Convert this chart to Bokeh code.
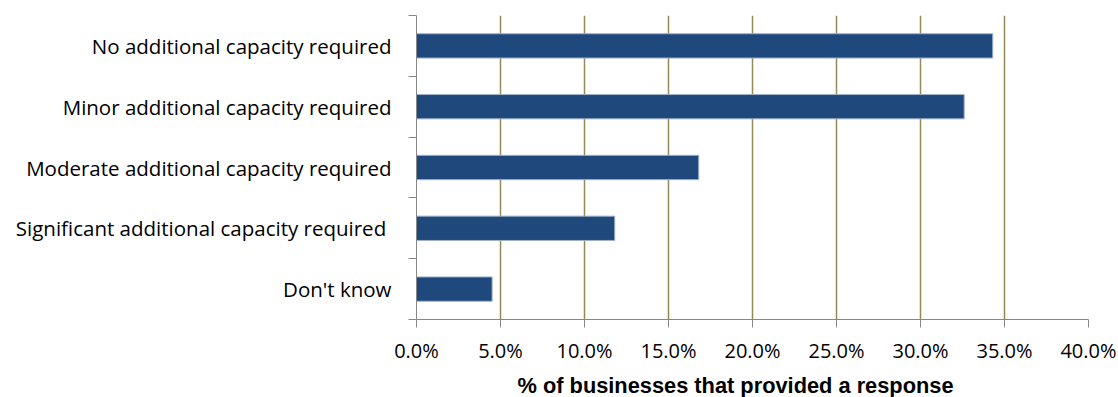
from bokeh.plotting import figure
from bokeh.models import FixedTicker, NumeralTickFormatter, Range1d, Title
from bokeh.embed import file_html
from bokeh.resources import INLINE

categories = [
    "No additional capacity required",
    "Minor additional capacity required",
    "Moderate additional capacity required",
    "Significant additional capacity required ",
    "Don't know",
]
values = [0.343, 0.326, 0.168, 0.118, 0.045]
x_ticks = [0.0, 0.05, 0.10, 0.15, 0.20, 0.25, 0.30, 0.35, 0.40]
x_title = "% of businesses that provided a response"

n = len(categories)
y_pos = [n - 0.5 - i for i in range(n)]

p = figure(
    frame_width=672, frame_height=304,
    min_border_left=416, min_border_right=28, min_border_top=15, min_border_bottom=2,
    x_range=Range1d(0, 0.40), y_range=Range1d(0, n),
    output_backend="svg", toolbar_location=None,
)
p.outline_line_color = None
p.background_fill_color = "white"

p.hbar(y=y_pos, right=values, left=0, height=0.4,
       fill_color="#1F497D", line_color="#9FB1C8", line_width=1)

# x axis
xa = p.xaxis[0]
xa.ticker = FixedTicker(ticks=x_ticks)
xa.formatter = NumeralTickFormatter(format="0.0%")
xa.axis_line_color = "#868686"
xa.major_tick_line_color = "#868686"
xa.major_tick_in = 0
xa.major_tick_out = 8
xa.minor_tick_line_color = None
xa.major_label_standoff = 9
xa.major_label_text_font = "Open Sans"
xa.major_label_text_font_size = "20px"
xa.major_label_text_color = "#000000"

t = Title(text=x_title, align="left", offset=101,
          text_font="Liberation Sans", text_font_style="bold",
          text_font_size="21.8px", text_color="#000000", standoff=8)
p.add_layout(t, "below")

# y axis: labels at centers, ticks at boundaries
ya = p.yaxis[0]
ya.ticker = FixedTicker(ticks=y_pos, minor_ticks=list(range(n + 1)))
ya.major_label_overrides = {y: c for y, c in zip(y_pos, categories)}
ya.major_tick_line_color = None
ya.major_tick_in = 0
ya.major_tick_out = 0
ya.minor_tick_line_color = "#868686"
ya.minor_tick_in = 0
ya.minor_tick_out = 8
ya.axis_line_color = "#868686"
ya.major_label_standoff = 17
ya.major_label_text_font = "Open Sans"
ya.major_label_text_font_size = "20.5px"
ya.major_label_text_color = "#000000"

p.ygrid.grid_line_color = None
p.xgrid.grid_line_color = "#948A54"
p.xgrid.grid_line_width = 1.5

open("out.html", "w").write(file_html(p, INLINE))
